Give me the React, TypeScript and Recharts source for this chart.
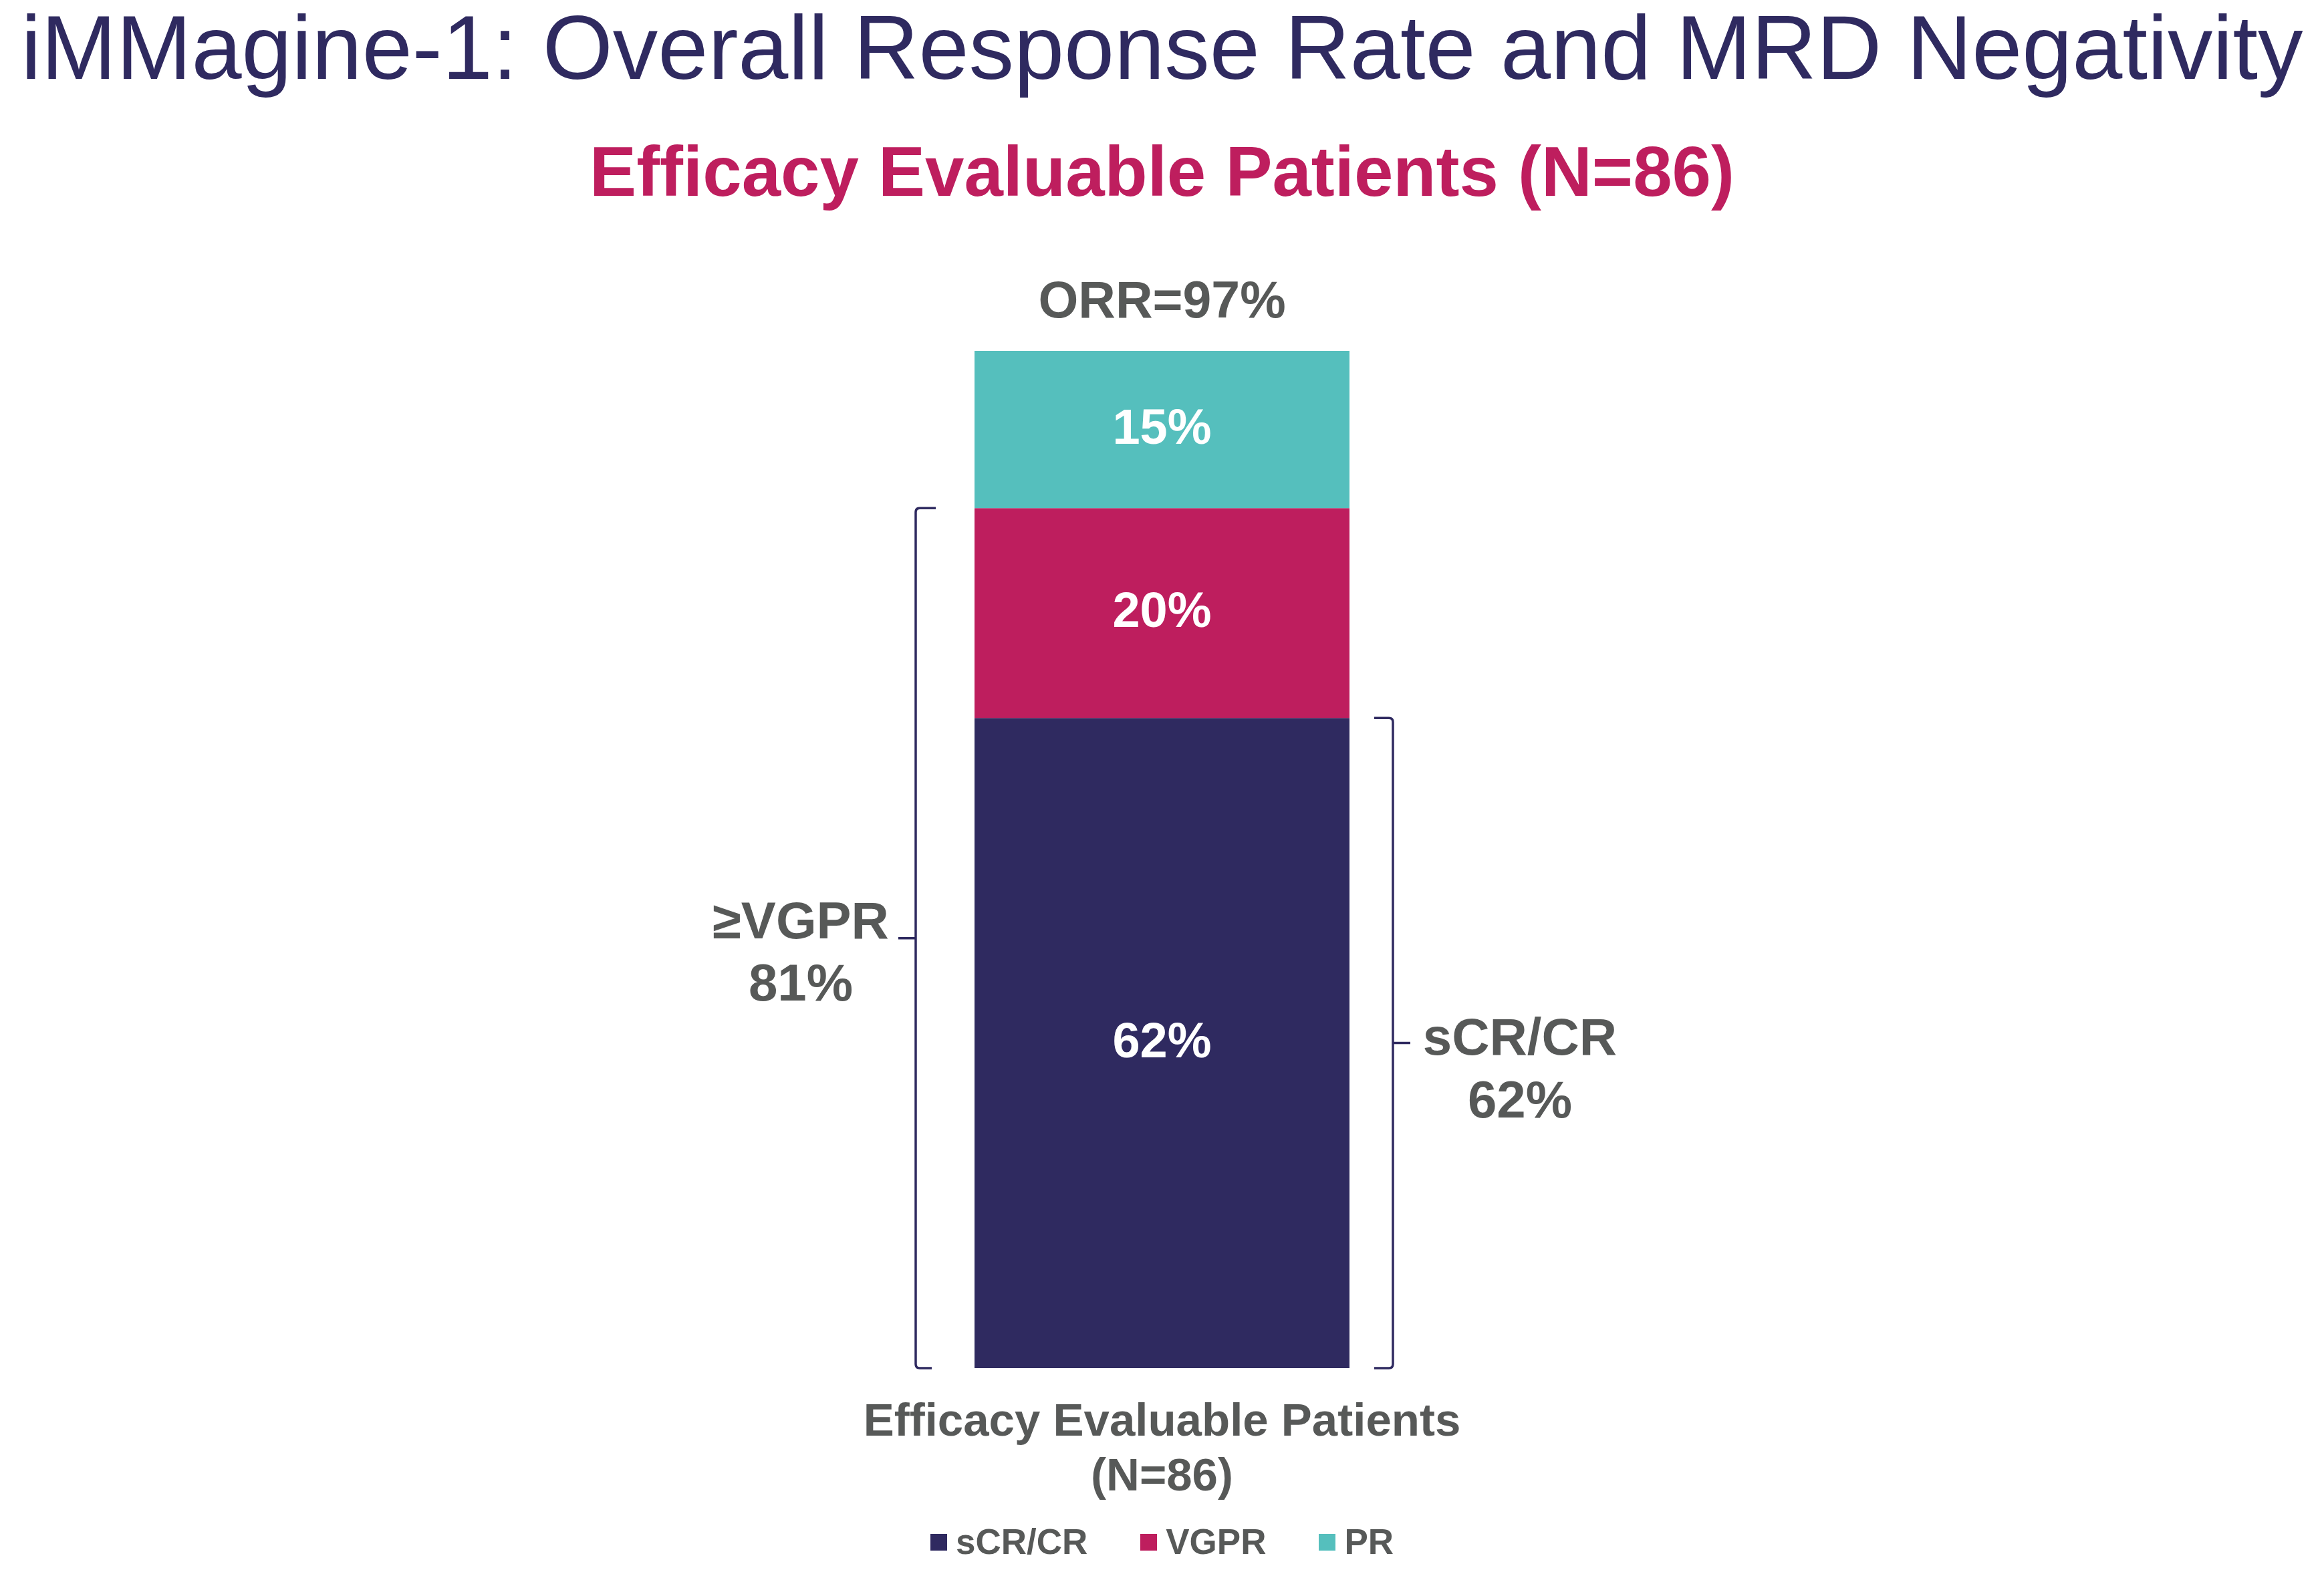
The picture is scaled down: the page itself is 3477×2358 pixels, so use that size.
import React from 'react';
import { BarChart, Bar, XAxis, YAxis, Legend, LabelList } from 'recharts';

// response categories, stacked bottom -> top
const categories = ['Efficacy Evaluable Patients'];
const categorySub = ['(N=86)'];
const seriesNames = ['sCR/CR', 'VGPR', 'PR'];
const scrCr = [62];
const vgpr = [20];
const pr = [15];
const orrLabel = 'ORR=97%';
const vgprOrBetterLabel = ['≥VGPR', '81%'];
const scrCrBracketLabel = ['sCR/CR', '62%'];
const yMax = 97;

const W = 3477;
const H = 2358;
const NAVY = '#2f2a60';
const MAGENTA = '#be1e5e';
const TEAL = '#55bfbd';
const GRAY = '#575958';
const FONT = '"Liberation Sans", Arial, Helvetica, sans-serif';

const data = categories.map((c, i) => ({ name: c, scr: scrCr[i], vgpr: vgpr[i], pr: pr[i] }));

const box = (p: any) => {
  const vb = p.viewBox || {};
  return {
    x: vb.x ?? p.x,
    y: vb.y ?? p.y,
    width: vb.width ?? p.width,
    height: vb.height ?? p.height,
  };
};

const numVal = (v: any) => (Array.isArray(v) ? v[1] - v[0] : Number(v));

const inBar = (p: any) => {
  const { x, y, width, height } = box(p);
  return (
    <text x={x + width / 2} y={y + height / 2 + 21} textAnchor="middle" fill="#fff"
      fontFamily={FONT} fontWeight={700} fontSize={74}>
      {`${numVal(p.value)}%`}
    </text>
  );
};

const orrTop = (p: any) => {
  const { x, y, width } = box(p);
  return (
    <text x={x + width / 2} y={y - 50} textAnchor="middle" fill={GRAY}
      fontFamily={FONT} fontWeight={700} fontSize={77}>
      {orrLabel}
    </text>
  );
};

// right bracket around the sCR/CR segment
const scrBracket = (p: any) => {
  const { x, y, width, height } = box(p);
  const vx = x + width + 65;
  const top = y;
  const bot = y + height;
  const mid = (top + bot) / 2;
  const r = 6;
  const d = `M${vx - 28},${top} H${vx - r} Q${vx},${top} ${vx},${top + r} V${bot - r} Q${vx},${bot} ${vx - r},${bot} H${vx - 28} M${vx},${mid} H${vx + 26}`;
  return (
    <g>
      <path d={d} fill="none" stroke={NAVY} strokeWidth={3.5} />
      <text x={vx + 190} y={mid + 17} textAnchor="middle" fill={GRAY} fontFamily={FONT} fontWeight={700} fontSize={78}>
        {scrCrBracketLabel[0]}
      </text>
      <text x={vx + 190} y={mid + 111} textAnchor="middle" fill={GRAY} fontFamily={FONT} fontWeight={700} fontSize={78}>
        {scrCrBracketLabel[1]}
      </text>
    </g>
  );
};

// left bracket spanning VGPR + sCR/CR
const vgprBracket = (p: any) => {
  const { x, y, width, height } = box(p);
  const unit = height / numVal(p.value);
  const vx = x - 88;
  const top = y;
  const bot = y + height + scrCr[0] * unit;
  const mid = (top + bot) / 2;
  const r = 6;
  const d = `M${vx + 30},${top} H${vx + r} Q${vx},${top} ${vx},${top + r} V${bot - r} Q${vx},${bot} ${vx + r},${bot} H${vx + 24} M${vx},${mid} H${vx - 26}`;
  return (
    <g>
      <path d={d} fill="none" stroke={NAVY} strokeWidth={3.5} />
      <text x={x - 260} y={mid} textAnchor="middle" fill={GRAY} fontFamily={FONT} fontWeight={700} fontSize={78}>
        {vgprOrBetterLabel[0]}
      </text>
      <text x={x - 260} y={mid + 93} textAnchor="middle" fill={GRAY} fontFamily={FONT} fontWeight={700} fontSize={78}>
        {vgprOrBetterLabel[1]}
      </text>
    </g>
  );
};

const CatTick = (p: any) => {
  const { x, y, payload } = p;
  const i = p.index ?? 0;
  return (
    <g>
      <text x={x} y={y + 101} textAnchor="middle" fill={GRAY} fontFamily={FONT} fontWeight={700} fontSize={69}>
        {payload.value}
      </text>
      <text x={x} y={y + 183} textAnchor="middle" fill={GRAY} fontFamily={FONT} fontWeight={700} fontSize={69}>
        {categorySub[i]}
      </text>
    </g>
  );
};

const renderLegend = (props: any) => {
  // keep the stacking order (bottom segment first)
  const items = [...(props.payload || [])].sort(
    (a: any, b: any) => seriesNames.indexOf(a.value) - seriesNames.indexOf(b.value)
  );
  return (
    <div style={{ display: 'flex', justifyContent: 'center', alignItems: 'center', height: 50, fontFamily: FONT }}>
      {items.map((it: any, i: number) => (
        <div key={it.value} style={{ display: 'flex', alignItems: 'center', marginRight: i < items.length - 1 ? 79 : 0 }}>
          <span style={{ display: 'inline-block', width: 25, height: 25, background: it.color, marginRight: 13 }} />
          <span style={{ fontSize: 53, fontWeight: 700, color: GRAY, lineHeight: '50px' }}>{it.value}</span>
        </div>
      ))}
    </div>
  );
};

export default function App() {
  return (
    <div style={{ position: 'absolute', left: 0, top: 0, width: W, height: H, background: '#fff' }}>
      <BarChart width={W} height={H} data={data} margin={{ top: 525, right: 0, bottom: 111, left: 0 }}>
        <XAxis dataKey="name" height={200} axisLine={false} tickLine={false} tickSize={0} tickMargin={0}
          interval={0} tick={(p: any) => <CatTick {...p} />} />
        <YAxis hide type="number" domain={[0, yMax]} />
        <Legend layout="horizontal" verticalAlign="middle" align="center" content={renderLegend}
          wrapperStyle={{ top: 2282, left: 0, width: W }} />
        <Bar dataKey="scr" name={seriesNames[0]} stackId="a" fill={NAVY} barSize={561} isAnimationActive={false}>
          <LabelList dataKey="scr" content={inBar} />
          <LabelList dataKey="scr" content={scrBracket} />
        </Bar>
        <Bar dataKey="vgpr" name={seriesNames[1]} stackId="a" fill={MAGENTA} barSize={561} isAnimationActive={false}>
          <LabelList dataKey="vgpr" content={inBar} />
          <LabelList dataKey="vgpr" content={vgprBracket} />
        </Bar>
        <Bar dataKey="pr" name={seriesNames[2]} stackId="a" fill={TEAL} barSize={561} isAnimationActive={false}>
          <LabelList dataKey="pr" content={inBar} />
          <LabelList dataKey="pr" content={orrTop} />
        </Bar>
      </BarChart>
      <svg width={W} height={330} style={{ position: 'absolute', left: 0, top: 0, pointerEvents: 'none' }}>
        <text x={W / 2} y={118} textAnchor="middle" fill={NAVY} fontFamily={FONT} fontSize={135}>
          iMMagine-1: Overall Response Rate and MRD Negativity
        </text>
        <text x={W / 2} y={293} textAnchor="middle" fill={MAGENTA} fontFamily={FONT} fontWeight={700} fontSize={105}>
          Efficacy Evaluable Patients (N=86)
        </text>
      </svg>
    </div>
  );
}
